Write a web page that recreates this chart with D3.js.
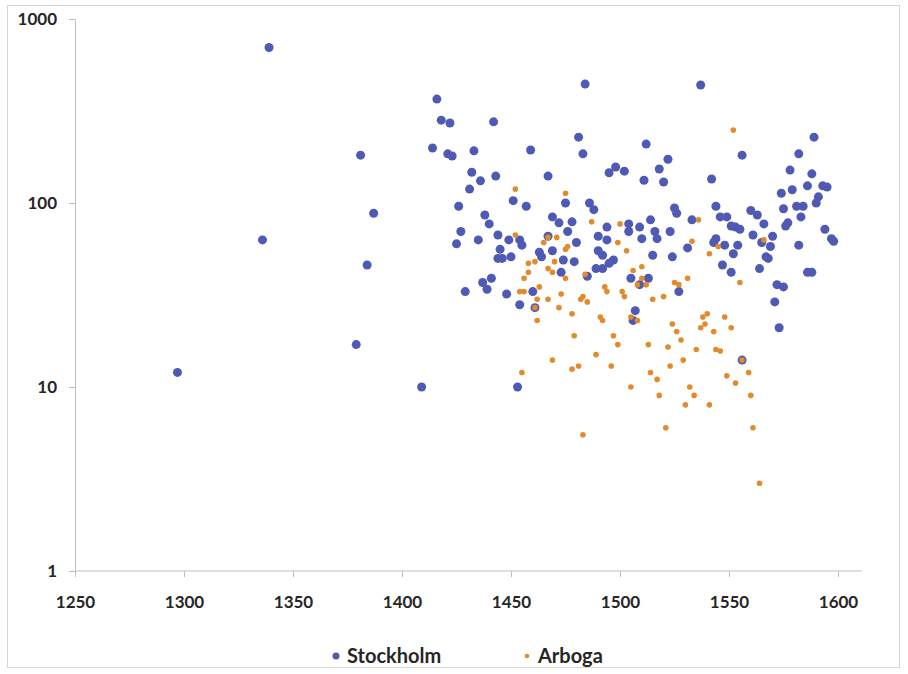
<!DOCTYPE html>
<html>
<head>
<meta charset="utf-8">
<script src="https://cdn.jsdelivr.net/npm/d3@7"></script>
<style>
  body { margin: 0; background: #fff; }
  text { font-family: Lato, "Open Sans", sans-serif; font-weight: bold; }
</style>
</head>
<body>
<div id="chart"></div>
<script>
// Series: [year, value]
const stockholm = [
  [1297, 12], [1336, 63], [1339, 700], [1381, 182], [1387, 88], [1384, 46], [1379, 17], [1409, 10],
  [1484, 443], [1416, 367], [1418, 282], [1422, 272], [1442, 276], [1481, 228], [1483, 185], [1512, 209],
  [1414, 199], [1421, 185], [1423, 180], [1433, 192], [1459, 194], [1432, 147], [1436, 132], [1443, 140],
  [1467, 140], [1495, 146], [1498, 157], [1502, 149], [1511, 133], [1431, 119], [1426, 96], [1451, 103],
  [1457, 96], [1475, 100], [1486, 100], [1488, 92], [1438, 86], [1440, 77], [1427, 70], [1425, 60],
  [1435, 63], [1444, 67], [1449, 63], [1454, 63], [1455, 59], [1469, 84], [1472, 78], [1476, 70],
  [1478, 79], [1480, 61], [1494, 74], [1490, 66], [1494, 63], [1504, 77], [1504, 70], [1509, 74],
  [1510, 64], [1467, 66], [1490, 55], [1492, 52], [1445, 56], [1444, 50], [1446, 50], [1450, 51],
  [1469, 55], [1463, 54], [1464, 51], [1474, 49], [1479, 48], [1497, 49], [1495, 47], [1489, 44],
  [1492, 44], [1473, 42], [1485, 40], [1505, 39], [1507, 26], [1506, 23], [1441, 39], [1437, 37],
  [1439, 34], [1429, 33], [1448, 32], [1454, 28], [1460, 33], [1461, 27], [1453, 10], [1537, 438],
  [1522, 173], [1518, 153], [1520, 130], [1542, 135], [1556, 182], [1589, 228], [1582, 185], [1578, 151],
  [1588, 144], [1574, 113], [1579, 118], [1586, 124], [1593, 124], [1595, 122], [1591, 108], [1590, 100],
  [1575, 93], [1581, 96], [1584, 96], [1583, 84], [1577, 78], [1576, 75], [1594, 72], [1597, 64],
  [1598, 62], [1582, 59], [1525, 94], [1526, 88], [1544, 96], [1546, 84], [1549, 84], [1560, 91],
  [1563, 86], [1566, 77], [1570, 66], [1551, 75], [1553, 74], [1555, 72], [1561, 67], [1565, 61],
  [1569, 58], [1544, 64], [1543, 61], [1548, 59], [1554, 59], [1552, 53], [1533, 81], [1531, 57],
  [1514, 81], [1523, 70], [1516, 70], [1517, 64], [1515, 52], [1524, 51], [1567, 51], [1513, 39],
  [1509, 36], [1527, 33], [1547, 46], [1551, 42], [1568, 50], [1564, 44], [1586, 42], [1588, 42],
  [1572, 36], [1575, 35], [1571, 29], [1573, 21], [1556, 14]
];

const arboga = [
  [1452, 119], [1475, 113], [1487, 79], [1500, 77], [1452, 67], [1465, 61], [1499, 61], [1503, 55],
  [1476, 58], [1467, 65], [1471, 65], [1458, 47], [1461, 48], [1458, 42], [1456, 39], [1467, 44],
  [1469, 42], [1470, 48], [1475, 56], [1484, 41], [1454, 33], [1456, 33], [1463, 35], [1462, 30],
  [1467, 30], [1473, 32], [1482, 30], [1483, 31], [1485, 29], [1493, 35], [1494, 33], [1501, 33],
  [1502, 31], [1472, 27], [1461, 27], [1462, 23], [1478, 25], [1491, 24], [1492, 23], [1505, 24],
  [1508, 23], [1479, 19], [1497, 19], [1499, 17], [1513, 17], [1489, 15], [1469, 14], [1496, 13],
  [1478, 12.5], [1481, 13], [1455, 12], [1505, 10], [1483, 5.5], [1552, 249], [1536, 81], [1533, 62],
  [1541, 53], [1545, 58], [1566, 63], [1506, 43], [1510, 45], [1510, 39], [1512, 36], [1508, 36],
  [1515, 30], [1520, 31], [1525, 37], [1527, 36], [1531, 39], [1555, 37], [1524, 22], [1526, 20],
  [1528, 18], [1522, 16.5], [1523, 13], [1529, 14], [1535, 16], [1538, 24], [1540, 25], [1537, 21],
  [1539, 22], [1543, 20], [1548, 24], [1551, 21], [1544, 16], [1546, 15.7], [1549, 11.5], [1553, 10.5],
  [1559, 12], [1560, 9], [1561, 6], [1564, 3], [1514, 12], [1517, 11], [1518, 9], [1532, 10],
  [1534, 9], [1530, 8], [1541, 8], [1521, 6], [1556, 14], [1475, 39]
];

const xTicks = [1250, 1300, 1350, 1400, 1450, 1500, 1550, 1600];
const yTicks = [1, 10, 100, 1000];
const seriesNames = ["Stockholm", "Arboga"];
const seriesColors = ["#4f5ab5", "#e38a2c"];

const WIDTH = 908;
const HEIGHT = 674;

const svg = d3
  .select("#chart")
  .append("svg")
  .attr("width", WIDTH)
  .attr("height", HEIGHT);

// Outer frame
svg
  .append("rect")
  .attr("x", 7.5)
  .attr("y", 5.5)
  .attr("width", 892)
  .attr("height", 662)
  .attr("fill", "none")
  .attr("stroke", "#d6d6d6");

// Scales
const x = d3.scaleLinear().domain([1250, 1600]).range([75, 838]);
const y = d3.scaleLog().domain([1, 1000]).range([571, 19]);
const AXIS_END = 862;

// X axis
const gx = svg
  .append("g")
  .attr("transform", "translate(0," + y(1) + ")")
  .call(
    d3
      .axisBottom(x)
      .tickValues(xTicks)
      .tickFormat(d3.format("d"))
      .tickSize(6)
      .tickSizeOuter(0)
      .tickPadding(19)
  );
gx.select(".domain").remove();
gx.append("line")
  .attr("x1", x(1250))
  .attr("x2", AXIS_END)
  .attr("stroke", "#bfbfbf");
gx.selectAll(".tick line").attr("stroke", "#bfbfbf");
gx.selectAll(".tick text")
  .attr("fill", "#262626")
  .style("font-size", "17px");

// Y axis
const gy = svg
  .append("g")
  .attr("transform", "translate(" + x(1250) + ",0)")
  .call(
    d3
      .axisLeft(y)
      .tickValues(yTicks)
      .tickFormat(d3.format("d"))
      .tickSize(6)
      .tickSizeOuter(0)
      .tickPadding(12)
  );
gy.select(".domain").attr("stroke", "#bfbfbf");
gy.selectAll(".tick line").attr("stroke", "#bfbfbf");
gy.selectAll(".tick text")
  .attr("fill", "#262626")
  .style("font-size", "17px");

// Points
svg
  .append("g")
  .selectAll("circle")
  .data(stockholm)
  .enter()
  .append("circle")
  .attr("cx", (d) => x(d[0]))
  .attr("cy", (d) => y(d[1]))
  .attr("r", 4.5)
  .attr("fill", seriesColors[0]);

svg
  .append("g")
  .selectAll("circle")
  .data(arboga)
  .enter()
  .append("circle")
  .attr("cx", (d) => x(d[0]))
  .attr("cy", (d) => y(d[1]))
  .attr("r", 2.8)
  .attr("fill", seriesColors[1]);

// Legend
const legend = svg
  .append("g")
  .selectAll("g")
  .data(seriesNames)
  .enter()
  .append("g")
  .attr("transform", (d, i) => "translate(" + (336 + i * 191) + ",656)");

legend
  .append("circle")
  .attr("r", (d, i) => (i === 0 ? 3.5 : 2.3))
  .attr("fill", (d, i) => seriesColors[i]);

legend
  .append("text")
  .attr("x", 11)
  .attr("dy", "0.35em")
  .attr("fill", "#262626")
  .style("font-size", "20px")
  .text((d) => d);
</script>
</body>
</html>
